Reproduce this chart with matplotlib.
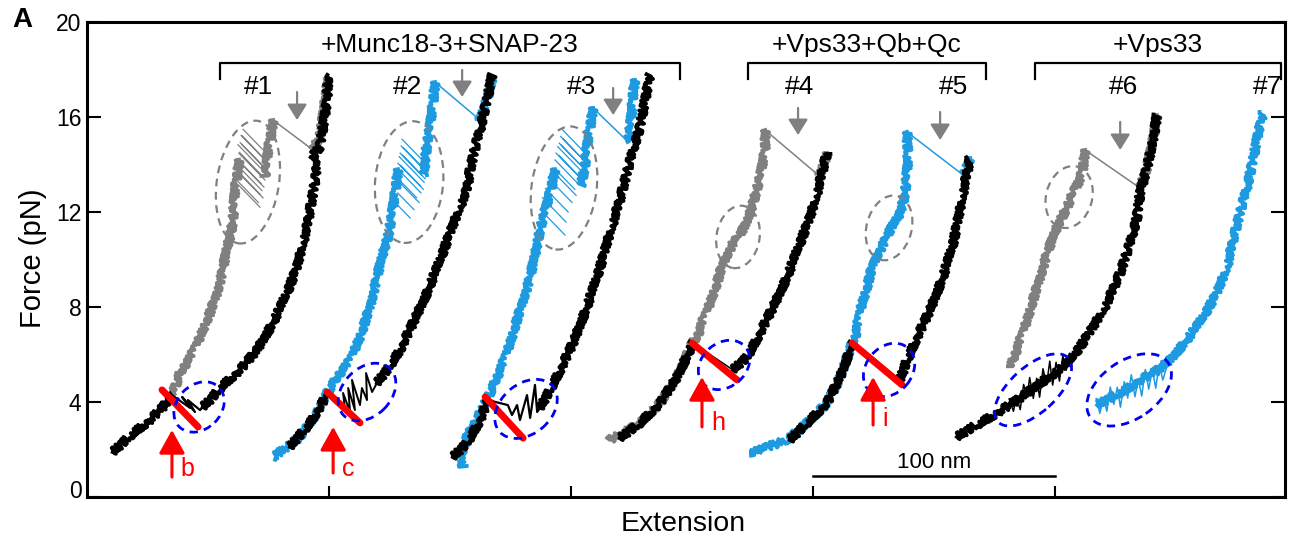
import matplotlib
matplotlib.use("Agg")
import matplotlib.pyplot as plt
from matplotlib.patches import Ellipse
from matplotlib.transforms import ScaledTranslation

plt.rcParams["font.family"] = ["Liberation Sans", "DejaVu Sans"]

BLUE = "#1E9BE0"
GRAY = "#808080"

# ---- force-extension traces (x in nm, force in pN) ----
# trace 1: black pull, gray relax
k1a_x = [10.7, 19.0, 26.0, 31.4, 35.1]
k1a_f = [1.89, 2.69, 3.24, 3.79, 4.29]
k1h_x = [35.1, 42.6, 39.3, 44.6, 41.7, 46.7, 47.9]
k1h_f = [4.29, 3.75, 4.21, 3.58, 4.08, 3.66, 3.79]
k1b_x = [47.9, 50.8, 56.2, 63.2, 70.2, 76.9, 82.6, 86.8, 90.9, 93.4, 95.0, 93.4, 96.3, 97.5, 99.2, 99.6]
k1b_f = [3.79, 4.08, 4.72, 5.35, 6.19, 7.33, 8.59, 9.68, 11.37, 12.80, 13.77, 14.40, 14.74, 15.58, 16.72, 17.77]
g1_top_x = [99.6, 97.9, 96.3, 93.4]
g1_top_f = [17.64, 16.29, 15.24, 14.61]
g1_up_x = [76.9, 76.0, 74.8, 74.4, 74.0, 73.6]
g1_up_f = [15.87, 15.24, 14.61, 14.10, 13.80, 13.50]
# hopping transitions: right-branch end and left-branch end of each jump
g1_hr_x = [74.8, 73.2, 74.4, 72.5, 74.0, 73.6, 72.6, 73.5, 71.9, 73.1, 72.3, 71.5, 72.7, 70.8, 71.5]
g1_hr_f = [14.40, 14.25, 14.10, 13.95, 13.80, 13.65, 13.50, 13.35, 13.20, 13.05, 12.90, 12.75, 12.60,
           12.40, 12.20]
g1_hl_x = [64.5, 64.1, 63.7, 63.9, 63.3, 62.4, 63.0, 62.8, 61.9, 62.4, 62.0, 61.6, 62.0, 61.2, 60.8]
g1_hl_f = [15.48, 15.21, 15.22, 14.85, 14.92, 14.83, 14.51, 14.47, 14.25, 14.17, 13.98, 13.79, 13.72,
           13.41, 13.32]
g1_low_x = [62.8, 62.2, 61.2, 60.3, 59.1, 57.9, 55.8, 53.7, 50.8, 46.7, 42.6, 38.4, 36.4, 35.1]
g1_low_f = [14.20, 13.60, 13.00, 11.66, 10.95, 10.53, 9.43, 8.59, 7.75, 6.74, 5.89, 5.22, 4.63, 4.38]

# trace 2: black pull, blue relax
k2a_x = [83.9, 92.1, 99.2]
k2a_f = [2.11, 3.12, 4.29]
k2h_x = [99.2, 106.6, 105.8, 108.7, 107.9, 110.7, 109.5, 112.8, 113.6, 115.7, 115.3, 117.8, 119.8]
k2h_f = [4.29, 3.66, 4.38, 3.58, 4.59, 3.66, 4.93, 3.87, 4.59, 4.08, 5.22, 4.42, 4.80]
k2b_x = [119.8, 124.0, 129.3, 134.7, 140.5, 145.9, 150.0, 154.1, 157.0, 158.3, 159.5, 161.2, 162.4,
         163.6, 165.3, 167.4]
k2b_f = [4.80, 5.35, 6.19, 7.33, 8.59, 9.98, 11.12, 12.21, 12.93, 13.77, 14.32, 15.03, 15.45, 16.00,
         16.72, 17.77]
b2_top_x = [167.4, 165.3, 163.6, 162.4]
b2_top_f = [17.64, 16.72, 16.21, 15.87]
b2_up_x = [143.8, 143.0, 141.7, 140.5, 139.7, 139.3]
b2_up_f = [17.47, 16.59, 15.58, 14.91, 14.19, 13.56]
b2_hr_x = [140.5, 138.9, 140.1, 138.4, 139.7, 139.3, 137.8, 139.0, 138.0, 136.2, 137.2, 135.1, 133.5]
b2_hr_f = [13.98, 13.85, 13.70, 13.55, 13.40, 13.25, 13.10, 12.95, 12.80, 12.60, 12.40, 12.10, 11.75]
b2_hl_x = [130.2, 130.8, 129.8, 130.4, 129.4, 129.0, 129.6, 128.5, 128.9, 127.9, 127.7, 128.4, 127.0]
b2_hl_f = [15.06, 14.70, 14.78, 14.39, 14.48, 14.33, 13.96, 14.05, 13.76, 13.47, 13.40, 12.80, 12.43]
b2_low_x = [128.5, 127.6, 126.0, 124.4, 122.3, 119.8, 116.9, 112.8, 108.7, 103.3, 99.2, 95.0, 88.0, 76.9]
b2_low_f = [13.80, 13.00, 11.90, 10.95, 10.27, 9.26, 8.00, 6.74, 5.77, 5.05, 4.38, 3.54, 2.53, 1.68]

# trace 3: black pull, blue relax
k3a_x = [151.2, 157.0, 162.4, 165.7]
k3a_f = [1.68, 2.27, 3.24, 4.08]
k3h_x = [165.7, 173.9, 175.6, 177.7, 178.9, 181.8, 183.1, 185.1, 186.0, 187.2]
k3h_f = [4.08, 3.87, 3.45, 3.87, 3.24, 4.29, 3.33, 4.72, 3.58, 3.75]
k3b_x = [187.2, 191.3, 195.5, 200.8, 206.6, 212.0, 216.1, 220.2, 223.1, 225.6, 228.5, 230.6, 232.6]
k3b_f = [3.75, 4.51, 5.35, 6.48, 8.00, 9.68, 11.12, 12.51, 13.64, 14.61, 15.58, 16.72, 17.77]
b3_top_x = [226.4, 225.6, 225.2, 224.4, 223.6]
b3_top_f = [17.56, 17.01, 16.29, 15.58, 14.95]
b3_up_x = [209.1, 207.9, 206.6, 205.8, 205.0, 204.1]
b3_up_f = [16.38, 15.58, 14.74, 13.98, 13.56, 13.14]
b3_hr_x = [206.6, 204.6, 206.0, 204.2, 205.6, 205.0, 203.4, 204.6, 203.3, 201.6, 202.1, 200.4, 198.8,
           197.9, 197.5]
b3_hr_f = [14.40, 14.25, 14.10, 13.95, 13.80, 13.65, 13.50, 13.35, 13.15, 12.95, 12.70, 12.40, 12.00,
           11.58, 11.03]
b3_hl_x = [196.3, 196.8, 195.7, 196.0, 195.1, 194.5, 195.0, 193.8, 193.4, 193.0, 191.8, 190.6, 189.4,
           188.2, 187.2]
b3_hl_f = [15.48, 15.07, 15.18, 14.81, 14.90, 14.75, 14.38, 14.48, 14.19, 13.85, 13.78, 13.43, 12.99,
           12.60, 12.11]
b3_low_x = [193.4, 191.8, 189.5, 187.2, 186.4, 183.1, 178.9, 174.8, 170.7, 166.5, 162.4, 157.0, 154.1, 155.4]
b3_low_f = [13.80, 13.00, 12.10, 11.30, 10.82, 9.26, 7.87, 6.48, 5.35, 4.38, 3.54, 2.53, 1.68, 1.26]

# trace 4: black pull, gray relax
k4a_x = [220.2, 228.5, 236.8, 243.8, 249.2, 250.4]
k4a_f = [2.48, 3.12, 3.96, 5.05, 6.19, 6.48]
k4b_x = [266.9, 272.7, 278.1, 283.5, 289.3, 294.6, 298.8, 301.7, 303.7, 305.8]
k4b_f = [5.35, 5.89, 6.91, 8.00, 9.26, 10.69, 11.79, 12.80, 13.64, 14.48]
g4_top_x = [305.8, 303.7, 302.1]
g4_top_f = [14.48, 13.77, 13.56]
g4_low_x = [280.2, 280.2, 278.1, 275.2, 272.7, 269.0, 266.9, 262.8, 260.3, 257.4, 254.5, 252.1, 250.0,
            243.8, 236.8, 228.5, 220.2, 215.3]
g4_low_f = [15.45, 14.61, 13.47, 12.38, 11.54, 10.95, 10.69, 9.85, 9.01, 8.17, 7.45, 6.74, 6.48, 5.05,
            3.96, 3.12, 2.61, 2.40]

# trace 5: black pull, blue relax
k5a_x = [290.5, 297.5, 305.8, 311.2, 315.3, 316.5]
k5a_f = [2.40, 3.12, 3.96, 5.05, 6.19, 6.48]
k5b_x = [336.0, 338.8, 343.0, 348.3, 353.7, 357.9, 360.7, 362.8, 364.9]
k5b_f = [4.93, 5.77, 6.74, 7.87, 9.26, 10.69, 12.08, 13.22, 14.27]
b5_top_x = [364.9, 362.8, 362.0]
b5_top_f = [14.27, 13.68, 13.56]
b5_low_x = [338.8, 339.3, 338.0, 336.0, 331.8, 327.7, 324.8, 322.3, 319.4, 317.4, 316.1, 311.2, 305.8,
            297.5, 289.3, 281.0, 274.0]
b5_low_f = [15.37, 14.19, 12.80, 11.96, 11.24, 10.40, 9.85, 8.84, 7.87, 6.74, 6.48, 5.05, 3.96, 3.12,
            2.40, 2.11, 1.85]

# trace 6: black pull, gray relax
k6_x = [359.5, 366.1, 376.0, 384.3, 393.8, 402.1, 406.2, 410.3, 415.7, 421.5, 426.9, 431.0, 433.9,
        435.1, 438.0, 440.5, 442.1]
k6_f = [2.53, 2.95, 3.54, 4.08, 4.80, 5.35, 5.77, 6.32, 7.16, 8.17, 9.43, 10.69, 11.79, 12.80, 13.89,
        15.03, 16.08]
k6h_x = [381.0, 382.8, 384.0, 385.6, 387.0, 388.4, 389.5, 391.0, 392.4, 393.6, 395.0, 396.5, 397.8,
         399.0, 400.4, 401.8, 403.2, 404.6, 406.0]
k6h_f = [4.13, 3.61, 4.21, 3.68, 4.74, 4.20, 5.03, 4.15, 5.00, 4.20, 5.40, 4.72, 5.72, 4.71, 5.67,
         4.88, 5.94, 5.34, 6.05]
g6_top_x = [442.1, 440.5, 438.0, 435.1]
g6_top_f = [16.08, 15.03, 13.89, 13.01]
g6_low_x = [412.4, 411.6, 410.3, 407.4, 405.0, 400.8, 396.7, 393.8, 390.9, 388.4, 385.5, 382.6, 381.4]
g6_low_f = [14.61, 13.89, 13.35, 12.80, 12.21, 11.37, 10.27, 9.26, 8.29, 7.45, 6.61, 5.77, 5.47]

# trace 7: blue only
b7_x = [417.4, 422.7, 428.9, 435.1, 441.3, 447.5, 454.5, 461.2, 466.9, 471.1, 473.6, 476.4, 479.3,
        481.8, 483.9, 486.0]
b7_f = [3.87, 4.17, 4.51, 4.93, 5.26, 5.77, 6.61, 7.58, 8.59, 9.68, 10.82, 11.96, 13.05, 14.19, 15.33,
        16.17]
b7h_x = [417.0, 418.5, 420.0, 421.4, 422.8, 424.3, 425.7, 427.0, 428.6, 430.0, 431.5, 433.0, 434.4,
         435.8, 437.3, 438.7, 440.2, 441.6, 443.0, 444.5, 446.0]
b7h_f = [4.15, 3.52, 4.19, 3.61, 4.63, 3.90, 4.62, 3.78, 4.86, 4.17, 5.15, 4.22, 4.98, 4.25, 5.37,
         4.54, 5.36, 4.58, 5.60, 4.92, 5.44]

# ---- annotations ----
red_x0 = [31.0, 99.2, 164.5, 250.0, 316.1]
red_f0 = [4.51, 4.42, 4.21, 6.48, 6.48]
red_x1 = [45.9, 112.8, 180.2, 268.6, 336.8]
red_f1 = [2.95, 3.12, 2.48, 4.93, 4.72]

up_x = [35.1, 101.7, 254.1, 324.8]
up_tail = [0.84, 1.01, 2.95, 3.03]
up_tip = [2.82, 2.95, 5.05, 5.05]
up_text = ["b", "c", "h", "i"]
up_tx = [41.3, 107.9, 260.7, 329.6]
up_tf = [1.18, 1.18, 3.12, 3.30]

down_x = [86.8, 155.0, 217.4, 293.8, 352.5, 426.9]
down_tail = [17.05, 17.98, 17.22, 16.38, 16.21, 15.79]
down_tip = [15.87, 16.84, 16.08, 15.24, 15.03, 14.61]

run_labels = ["#1", "#2", "#3", "#4", "#5", "#6", "#7"]
run_x = [70.7, 132.6, 204.5, 294.6, 357.9, 428.1, 488.0]

group_labels = ["+Munc18-3+SNAP-23", "+Vps33+Qb+Qc", "+Vps33"]
group_x0 = [55.0, 273.1, 391.7]
group_x1 = [245.0, 371.5, 493.4]

# gray dashed rings: centre (nm, pN), size in px, angle
gring_x = [66.5, 133.1, 197.1, 269.0, 331.4, 405.8]
gring_f = [13.26, 13.26, 13.01, 10.95, 11.33, 12.63]
gring_w = [62, 68, 65, 43, 45, 46]
gring_h = [124, 122, 124, 63, 66, 63]
gring_a = [-9, -5, -8, -10, -15, -15]

# blue dashed rings
bring_x = [46.3, 115.7, 181.4, 263.2, 331.4, 390.9, 430.6]
bring_f = [3.79, 4.42, 3.71, 5.56, 5.35, 4.51, 4.51]
bring_w = [56, 66, 70, 56, 58, 95, 95]
bring_h = [44, 48, 50, 44, 46, 46, 58]
bring_a = [45, 45, 40, 40, 50, 42, 35]

fig = plt.figure(figsize=(13.01, 5.42), dpi=100)
ax = fig.add_axes([87 / 1301, 45 / 542, 1198 / 1301, 475 / 542])


def band(x, f, color, z):
    ln, = ax.plot(x, f, color=color, lw=2.8, zorder=z, solid_joinstyle="round")
    ln.set_sketch_params(scale=3.8, length=1.5, randomness=2)


def thin(x, f, color, z, lw=1.0):
    ax.plot(x, f, color=color, lw=lw, zorder=z)


def jump(xa, fa, xb, fb, color, z):
    ax.plot([xa[-1], xb[0]], [fa[-1], fb[0]], color=color, lw=1.1, zorder=z)


def hatch(rx, rf, lx, lf, color, z):
    # each hop drawn as its own stroke between the two branches
    hx, hf = [], []
    for i in range(len(rx)):
        hx += [rx[i], lx[i], None]
        hf += [rf[i], lf[i], None]
    ax.plot(hx, hf, color=color, lw=0.9, zorder=z)


# colored (relax) traces underneath
band(g1_top_x, g1_top_f, GRAY, 2)
jump(g1_top_x, g1_top_f, g1_up_x, g1_up_f, GRAY, 2)
band(g1_up_x, g1_up_f, GRAY, 2)
hatch(g1_hr_x, g1_hr_f, g1_hl_x, g1_hl_f, GRAY, 2)
band(g1_low_x, g1_low_f, GRAY, 2)

band(b2_top_x, b2_top_f, BLUE, 2)
jump(b2_top_x, b2_top_f, b2_up_x, b2_up_f, BLUE, 2)
band(b2_up_x, b2_up_f, BLUE, 2)
hatch(b2_hr_x, b2_hr_f, b2_hl_x, b2_hl_f, BLUE, 2)
band(b2_low_x, b2_low_f, BLUE, 2)

band(b3_top_x, b3_top_f, BLUE, 2)
jump(b3_top_x, b3_top_f, b3_up_x, b3_up_f, BLUE, 2)
band(b3_up_x, b3_up_f, BLUE, 2)
hatch(b3_hr_x, b3_hr_f, b3_hl_x, b3_hl_f, BLUE, 2)
band(b3_low_x, b3_low_f, BLUE, 2)

band(g4_top_x, g4_top_f, GRAY, 2)
jump(g4_top_x, g4_top_f, g4_low_x, g4_low_f, GRAY, 2)
band(g4_low_x, g4_low_f, GRAY, 2)

band(b5_top_x, b5_top_f, BLUE, 2)
jump(b5_top_x, b5_top_f, b5_low_x, b5_low_f, BLUE, 2)
band(b5_low_x, b5_low_f, BLUE, 2)

band(g6_top_x, g6_top_f, GRAY, 2)
jump(g6_top_x, g6_top_f, g6_low_x, g6_low_f, GRAY, 2)
band(g6_low_x, g6_low_f, GRAY, 2)

band(b7_x, b7_f, BLUE, 2)
thin(b7h_x, b7h_f, BLUE, 2, lw=1.1)

# black pulling traces on top
band(k1a_x, k1a_f, "black", 3)
thin(k1h_x, k1h_f, "black", 3, lw=1.6)
band(k1b_x, k1b_f, "black", 3)
band(k2a_x, k2a_f, "black", 3)
thin(k2h_x, k2h_f, "black", 3, lw=1.4)
band(k2b_x, k2b_f, "black", 3)
band(k3a_x, k3a_f, "black", 3)
thin(k3h_x, k3h_f, "black", 3, lw=1.6)
band(k3b_x, k3b_f, "black", 3)
band(k4a_x, k4a_f, "black", 3)
jump(k4a_x, k4a_f, k4b_x, k4b_f, "black", 3)
band(k4b_x, k4b_f, "black", 3)
band(k5a_x, k5a_f, "black", 3)
jump(k5a_x, k5a_f, k5b_x, k5b_f, "black", 3)
band(k5b_x, k5b_f, "black", 3)
band(k6_x, k6_f, "black", 3)
thin(k6h_x, k6h_f, "black", 3, lw=1.1)

# red unfolding markers
for i in range(len(red_x0)):
    ax.plot([red_x0[i], red_x1[i]], [red_f0[i], red_f1[i]], color="red", lw=5,
            solid_capstyle="round", zorder=6)


def ring(cx, cf, w, h, a, color, lw, dash):
    tr = fig.dpi_scale_trans + ScaledTranslation(cx, cf, ax.transData)
    e = Ellipse((0, 0), w / 100, h / 100, angle=a, transform=tr, fill=False,
                ec=color, lw=lw, ls=(0, dash), zorder=7)
    ax.add_patch(e)


for i in range(len(gring_x)):
    ring(gring_x[i], gring_f[i], gring_w[i], gring_h[i], gring_a[i], GRAY, 1.6, (3.5, 2.5))
for i in range(len(bring_x)):
    ring(bring_x[i], bring_f[i], bring_w[i], bring_h[i], bring_a[i], "#0000EE", 2.0, (3.0, 2.2))

# arrows
for i in range(len(up_x)):
    ax.annotate("", xy=(up_x[i], up_tip[i]), xytext=(up_x[i], up_tail[i]),
                arrowprops=dict(arrowstyle="-|>,head_length=0.9,head_width=0.5", color="red",
                                lw=2.2, mutation_scale=16, shrinkA=0, shrinkB=0), zorder=8)
    ax.text(up_tx[i], up_tf[i], up_text[i], color="red", fontsize=18, ha="center", va="center")

for i in range(len(down_x)):
    ax.annotate("", xy=(down_x[i], down_tip[i]), xytext=(down_x[i], down_tail[i]),
                arrowprops=dict(arrowstyle="-|>,head_length=0.8,head_width=0.5", color=GRAY,
                                lw=1.6, mutation_scale=12, shrinkA=0, shrinkB=0), zorder=8)

# brackets and labels
for i in range(len(group_labels)):
    ax.plot([group_x0[i], group_x0[i], group_x1[i], group_x1[i]], [17.6, 18.27, 18.27, 17.6],
            color="black", lw=1.6, clip_on=False)
    ax.text((group_x0[i] + group_x1[i]) / 2, 19.03, group_labels[i], fontsize=19,
            ha="center", va="center")
for i in range(len(run_labels)):
    ax.text(run_x[i], 17.26, run_labels[i], fontsize=19, ha="center", va="center")

# scale bar
ax.plot([300, 400], [0.88, 0.88], color="black", lw=1.8)
ax.text(350, 1.47, "100 nm", fontsize=16, ha="center", va="center")

ax.set_xlim(0, 495)
ax.set_ylim(0, 20)
ax.set_yticks([0, 4, 8, 12, 16, 20])
ax.set_xticks([100, 200, 300, 400])
ax.set_xticklabels([])
ax.tick_params(axis="y", direction="in", length=10, width=1.5, right=True, labelsize=16.5, pad=4)
ax.tick_params(axis="x", direction="in", length=8, width=1.5)
for s in ax.spines.values():
    s.set_linewidth(2.2)

lab0 = ax.yaxis.get_major_ticks()[0].label1
lab0.set_transform(lab0.get_transform() + ScaledTranslation(0, 0.08, fig.dpi_scale_trans))

fig.text(33 / 1301, 1 - 258 / 542, "Force (pN)", rotation=90, fontsize=21, ha="center", va="center")
fig.text(683 / 1301, 1 - 524 / 542, "Extension", fontsize=20.5, ha="center", va="center")
fig.text(22 / 1301, 1 - 20 / 542, "A", fontsize=20, fontweight="bold", ha="center", va="center")

fig.savefig("out.png", dpi=100)
